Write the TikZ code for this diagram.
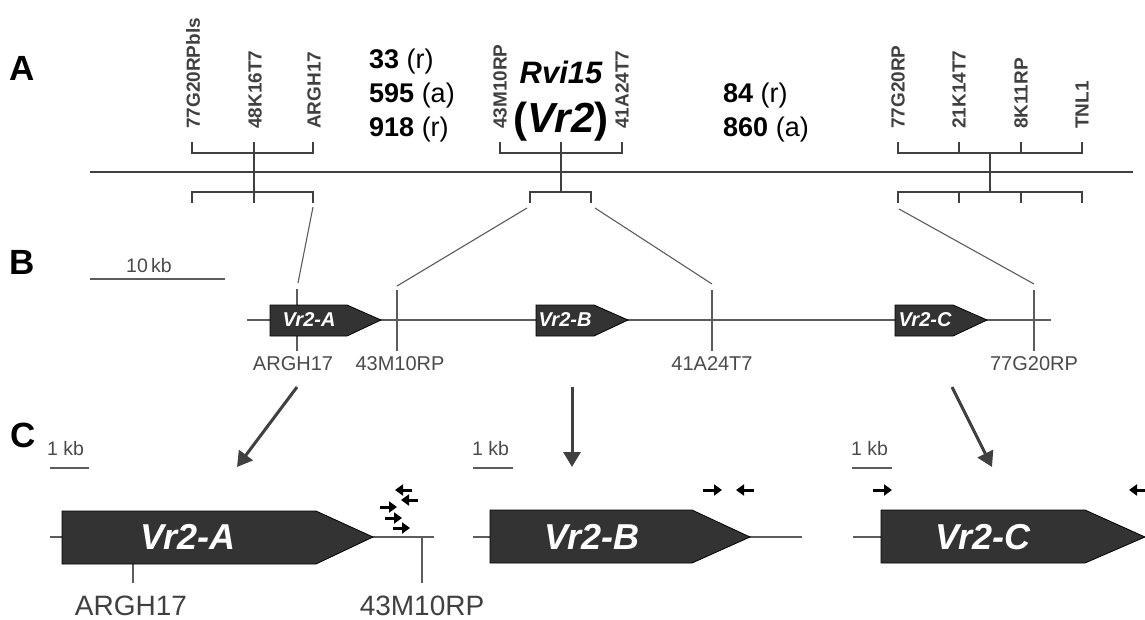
\documentclass[tikz,border=0pt]{standalone}
\usepackage{fontspec}
\setmainfont{Liberation Sans}
\usetikzlibrary{arrows.meta}
\definecolor{geneFill}{HTML}{333333}
\definecolor{mapGray}{HTML}{404040}
\definecolor{thinGray}{HTML}{5C5C5C}
\definecolor{txtGray}{HTML}{4A4A4A}
\begin{document}
\begin{tikzpicture}[x=1pt,y=-1pt,
  mapline/.style={line width=2pt, draw=mapGray},
  thinline/.style={line width=1.1pt, draw=thinGray},
  vlabel/.style={rotate=90, anchor=west, inner sep=0pt, text=mapGray, font=\fontsize{19}{19}\selectfont\bfseries},
  panel/.style={inner sep=0pt, anchor=base west, font=\fontsize{35}{35}\selectfont\bfseries},
  count/.style={inner sep=0pt, anchor=base west, font=\fontsize{27}{27}\selectfont},
  genebox/.style={fill=geneFill, draw=black, line width=0.8pt},
  smallgene/.style={text=white, inner sep=0pt, font=\fontsize{20}{20}\selectfont\bfseries\itshape},
  biggene/.style={text=white, inner sep=0pt, font=\fontsize{36}{36}\selectfont\bfseries\itshape},
  blabel/.style={inner sep=0pt, anchor=base, text=txtGray, font=\fontsize{20}{20}\selectfont},
  clabel/.style={inner sep=0pt, anchor=base, text=mapGray, font=\fontsize{28}{28}\selectfont},
  kblabel/.style={inner sep=0pt, anchor=base west, text=txtGray, font=\fontsize{19.5}{19.5}\selectfont},
  bigarrow/.style={line width=3pt, draw=mapGray, -{Triangle[length=15pt,width=17pt]}},
  primer/.style={line width=3pt, draw=black, -{Triangle[length=8pt,width=11pt]}},
]
\useasboundingbox (0,0) rectangle (1145,619);

% ---------- panel letters ----------
\node[panel] (pA) at (9,80) {A};
\node[panel] (pB) at (9,274) {B};
\node[panel] (pC) at (10,447) {C};

% ---------- panel A ----------
\coordinate (chrL) at (90,172);
\coordinate (chrR) at (1133,172);
\draw[mapline] (chrL) -- (chrR);

% left group
\draw[mapline] (192,142) -- (192,153) -- (313,153) -- (313,142);
\draw[mapline] (254,142) -- (254,203);
\draw[mapline] (192,203) -- (192,192) -- (313,192) -- (313,203);
\coordinate (gAl) at (313,207);
\node[vlabel] (m1) at (193,129) {77G20RPbls};
\node[vlabel] (m2) at (255,129) {48K16T7};
\node[vlabel] (m3) at (314,129) {ARGH17};

% middle group
\draw[mapline] (500,142) -- (500,153) -- (622,153) -- (622,142);
\draw[mapline] (561,142) -- (561,192);
\draw[mapline] (530,203) -- (530,192) -- (591,192) -- (591,203);
\coordinate (gBl) at (527,208);
\coordinate (gBr) at (595,208);
\node[vlabel] (m4) at (500,129) {43M10RP};
\node[vlabel] (m5) at (622,129) {41A24T7};
\node[inner sep=0pt, anchor=base, font=\fontsize{31}{31}\selectfont\bfseries\itshape] (rvi) at (561,83) {Rvi15};
\node[inner sep=0pt, anchor=base, font=\fontsize{42}{42}\selectfont\bfseries] (vr2) at (561,132) {(\textit{Vr2})};

% right group
\draw[mapline] (898,142) -- (898,153) -- (1082,153) -- (1082,142);
\draw[mapline] (959,142) -- (959,153);
\draw[mapline] (1021,142) -- (1021,153);
\draw[mapline] (990,153) -- (990,192);
\draw[mapline] (898,203) -- (898,192) -- (1082,192) -- (1082,203);
\draw[mapline] (959,192) -- (959,203);
\draw[mapline] (1021,192) -- (1021,203);
\coordinate (gCl) at (899,209);
\node[vlabel] (m6) at (898,129) {77G20RP};
\node[vlabel] (m7) at (959,129) {21K14T7};
\node[vlabel] (m8) at (1021,129) {8K11RP};
\node[vlabel] (m9) at (1082,129) {TNL1};

% recombinant counts
\node[count] (c1) at (369,68) {\textbf{33} (r)};
\node[count] (c2) at (369,102) {\textbf{595} (a)};
\node[count] (c3) at (369,136) {\textbf{918} (r)};
\node[count] (c4) at (723,102) {\textbf{84} (r)};
\node[count] (c5) at (723,136) {\textbf{860} (a)};

% ---------- panel B ----------
\draw[thinline] (90,279) -- (225,279);
\node[kblabel] (kb10) at (126,272) {10\,kb};

\coordinate (bL) at (247,320);
\coordinate (bR) at (1051,320);
\draw[thinline] (bL) -- (bR);

% marker ticks
\draw[thinline] (297,289) -- (297,351);
\draw[thinline] (397,290) -- (397,351);
\draw[thinline] (712,290) -- (712,351);
\draw[thinline] (1034,290) -- (1034,351);
\coordinate (tA) at (298,283);
\coordinate (tB) at (397,286);
\coordinate (tC) at (712,284);
\coordinate (tD) at (1034,284);

% genes
\draw[genebox] (270,305) -- (347,305) -- (381,320) -- (347,336) -- (270,336) -- cycle;
\draw[genebox] (536,305) -- (594,305) -- (628,320) -- (594,336) -- (536,336) -- cycle;
\draw[genebox] (895,305) -- (953,305) -- (987,320) -- (953,336) -- (895,336) -- cycle;
\node[smallgene] (gA) at (309,320) {Vr2-A};
\node[smallgene] (gB) at (565,320) {Vr2-B};
\node[smallgene] (gC) at (925,320) {Vr2-C};

\node[blabel] (lA) at (293,370) {ARGH17};
\node[blabel] (lB) at (400,370) {43M10RP};
\node[blabel] (lC) at (712,370) {41A24T7};
\node[blabel] (lD) at (1034,370) {77G20RP};

% connectors A -> B
\draw[thinline] (gAl) -- (tA);
\draw[thinline] (gBl) -- (tB);
\draw[thinline] (gBr) -- (tC);
\draw[thinline] (gCl) -- (tD);

% ---------- panel C ----------
\coordinate (arA0) at (297,387);
\coordinate (arA1) at (237,467);
\coordinate (arB0) at (572,387);
\coordinate (arB1) at (572,467);
\coordinate (arC0) at (952,387);
\coordinate (arC1) at (992,467);
\draw[bigarrow] (arA0) -- (arA1);
\draw[bigarrow] (arB0) -- (arB1);
\draw[bigarrow] (arC0) -- (arC1);

% scale bars
\draw[thinline] (50,468) -- (89,468);
\node[kblabel] (kbA) at (47,455) {1 kb};
\draw[thinline] (473,468) -- (513,468);
\node[kblabel] (kbB) at (472,455) {1 kb};
\draw[thinline] (852,468) -- (892,468);
\node[kblabel] (kbC) at (851,455) {1 kb};

% Vr2-A
\draw[thinline] (50,537) -- (434,537);
\draw[thinline] (133,564) -- (133,583);
\draw[thinline] (422,537) -- (422,583);
\draw[genebox] (62,511) -- (316,511) -- (373,537) -- (316,564) -- (62,564) -- cycle;
\node[biggene] (GA) at (188,537) {Vr2-A};
\node[clabel] (LA1) at (131,615) {ARGH17};
\node[clabel] (LA2) at (422,615) {43M10RP};
\draw[primer] (412,490) -- (395,490);
\draw[primer] (418,500) -- (401,500);
\draw[primer] (380,507) -- (397,507);
\draw[primer] (385,518) -- (402,518);
\draw[primer] (393,528) -- (410,528);

% Vr2-B
\draw[thinline] (473,537) -- (802,537);
\draw[genebox] (490,510) -- (692,510) -- (750,537) -- (692,563) -- (490,563) -- cycle;
\node[biggene] (GB) at (592,537) {Vr2-B};
\draw[primer] (703,490) -- (722,490);
\draw[primer] (754,490) -- (736,490);

% Vr2-C
\draw[thinline] (853,537) -- (881,537);
\draw[genebox] (881,510) -- (1085,510) -- (1145,537) -- (1085,563) -- (881,563) -- cycle;
\node[biggene] (GC) at (983,537) {Vr2-C};
\draw[primer] (873,490) -- (892,490);
\draw[primer] (1147,490) -- (1129,490);
\end{tikzpicture}
\end{document}
